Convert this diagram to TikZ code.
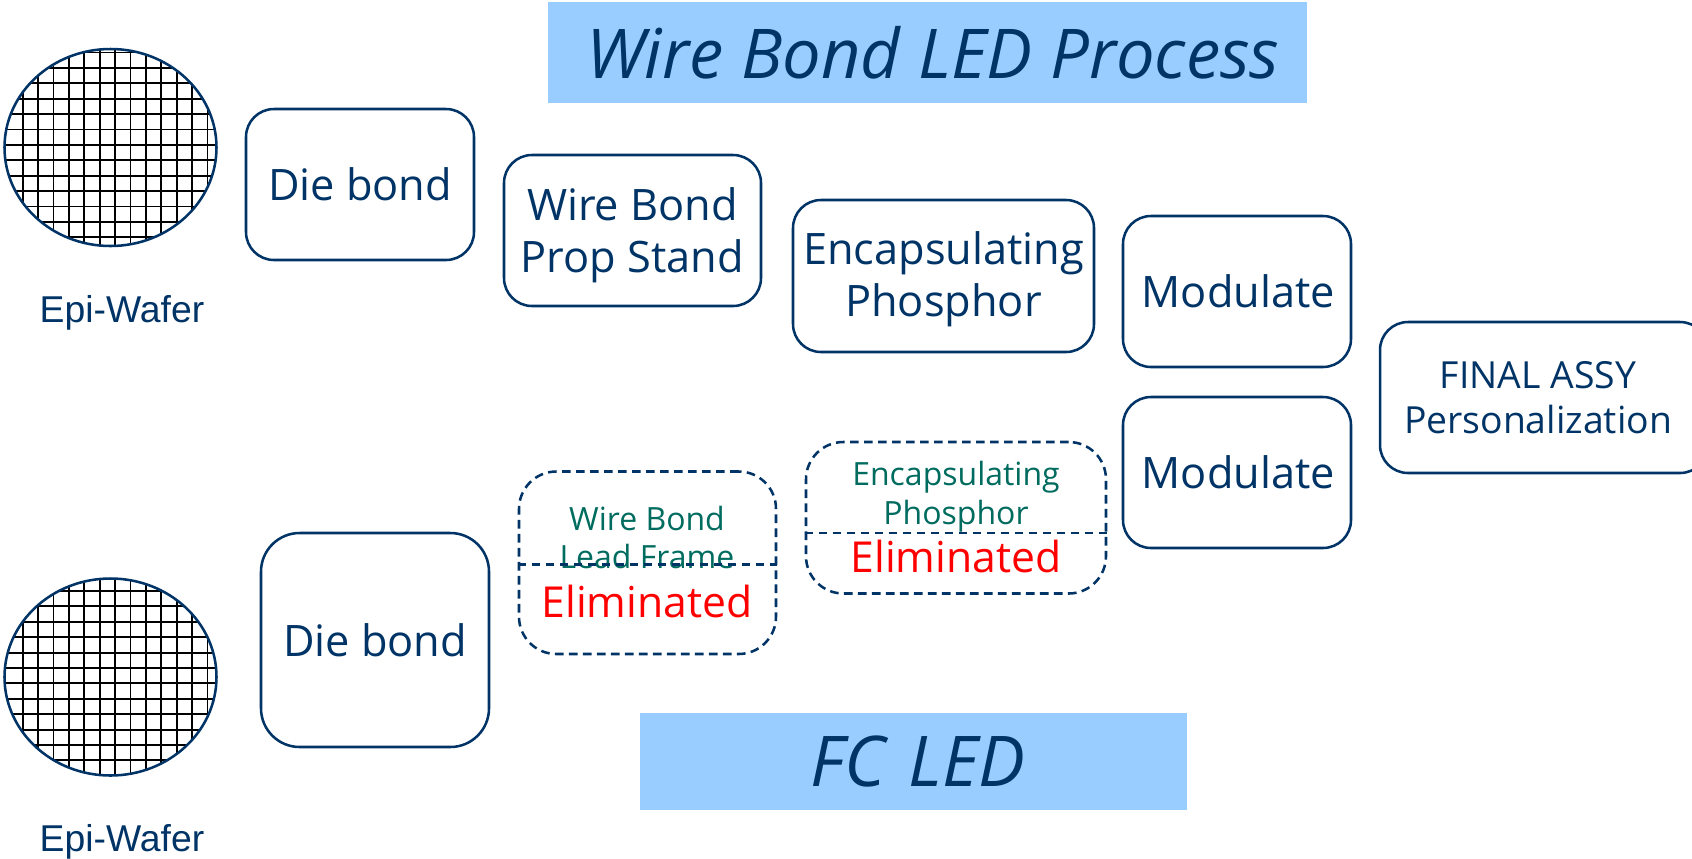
\documentclass[tikz,border=0pt]{standalone}
\usepackage{fontspec}
\setmainfont{Open Sans}
\newfontfamily\arialf{Liberation Sans}
\definecolor{navy}{HTML}{003366}
\definecolor{teal2}{HTML}{006B5F}
\definecolor{banner}{HTML}{99CCFF}
\tikzset{
  px/.style={x=.75pt,y=-.75pt},
  procbox/.style={draw=navy,line width=1.9pt,rounded corners=21pt,text=navy,align=center,inner sep=0pt,font=\fontsize{32.5}{39}\selectfont},
  boxlabel/.style={text=navy,align=center,inner sep=0pt,font=\fontsize{32.5}{39}\selectfont},
  dashbox/.style={draw=navy,line width=1.9pt,dash pattern=on 6.5pt off 4pt,rounded corners=28pt,inner sep=0pt},
  divider/.style={draw=navy,line width=1.9pt,dash pattern=on 6.5pt off 4pt},
  banner box/.style={fill=banner,inner sep=0pt,text=navy,font=\itshape\fontsize{51.5}{60}\selectfont},
  caption/.style={text=navy,font=\arialf\fontsize{28}{30}\selectfont,inner sep=0pt},
  gridline/.style={draw=black,line width=1.4pt},
  small teal/.style={text=teal2,align=center,inner sep=0pt,font=\fontsize{24}{29}\selectfont},
  elim/.style={text=red,inner sep=0pt,font=\fontsize{32}{36}\selectfont}
}
\newcommand{\boxat}[7][]{\node[#2,minimum width=#5*.75pt,minimum height=#6*.75pt,#1] (#3) at (#4) {#7};}
\begin{document}
\begin{tikzpicture}[px]
\useasboundingbox (0,0) rectangle (1692,858);
% banners
\node[banner box,minimum width=759*.75pt,minimum height=101*.75pt] (t1) at (927.5,52.5) {\hspace*{8pt}Wire Bond LED Process};
\node[banner box,minimum width=547*.75pt,minimum height=97*.75pt,font=\itshape\fontsize{52.5}{60}\selectfont,text width=547*.75pt,align=center] (t2) at (913.5,761.5) {\hspace*{7pt}FC LED};
% wafers
\begin{scope}
\clip (110.5,147.5) ellipse [x radius=106,y radius=98.5];
\foreach \k in {0,...,13}{
  \draw[gridline] ({22.7+15.4*\k},40) -- ({22.7+15.4*\k},255);
}
\foreach \k in {0,...,12}{
  \draw[gridline] (0,{52.5+15.4*\k}) -- (225,{52.5+15.4*\k});
}
\end{scope}
\draw[draw=navy,line width=1.9pt] (110.5,147.5) ellipse [x radius=106,y radius=98.5];
\begin{scope}
\clip (110.5,677) ellipse [x radius=106,y radius=98.5];
\foreach \k in {0,...,13}{
  \draw[gridline] ({22.7+15.4*\k},570) -- ({22.7+15.4*\k},785);
}
\foreach \k in {0,...,12}{
  \draw[gridline] (0,{591+15.4*\k}) -- (225,{591+15.4*\k});
}
\end{scope}
\draw[draw=navy,line width=1.9pt] (110.5,677) ellipse [x radius=106,y radius=98.5];
\node[caption] (c1) at (122,313) {Epi-Wafer};
\node[caption] (c2) at (122,842) {Epi-Wafer};
% process boxes
\boxat{procbox}{a1}{360,184.5}{228}{151}{Die bond}
\boxat{procbox}{a2}{632.5,230.5}{257}{151}{}
\node[boxlabel] (a2t) at (632.5,234.8) {Wire Bond\\Prop Stand};
\boxat{procbox}{a3}{943.5,276}{301}{152}{}
\node[boxlabel] (a3t) at (943.5,279.5) {Encapsulating\\Phosphor};
\boxat{procbox}{a4}{1237,291.5}{228}{151}{\hspace*{2pt}Modulate}
\boxat{procbox}{b4}{1237,472.5}{228}{151}{\hspace*{2pt}Modulate}
\node[procbox,minimum width=328*.75pt,minimum height=151*.75pt] (f) at (1544,397.5) {};
\node[boxlabel,font=\fontsize{28}{34}\selectfont] (ft) at (1538,397.5) {FINAL ASSY\\Personalization};
\boxat[rounded corners=29pt]{procbox}{b1}{375,640}{228}{214}{Die bond}
% dashed boxes
\boxat{dashbox}{d1}{647.5,562.75}{257}{182.5}{}
\boxat{dashbox}{d2}{956,517.75}{300}{151.5}{}
\path (d1.west |- 0,564.5) coordinate (d1l) (d1.east |- 0,564.5) coordinate (d1r);
\path (d2.west |- 0,533) coordinate (d2l) (d2.east |- 0,533) coordinate (d2r);
\node[small teal] (w1) at (647,537.5) {Wire Bond\\Lead Frame};
\draw[divider] (d1l) -- (d1r);
\node[elim] (e1) at (647,601) {Eliminated};
\node[small teal] (w2) at (956,497) {Encapsulating\\Phosphor};
\draw[divider] (d2l) -- (d2r);
\node[elim] (e2) at (956,556) {Eliminated};
\end{tikzpicture}
\end{document}
